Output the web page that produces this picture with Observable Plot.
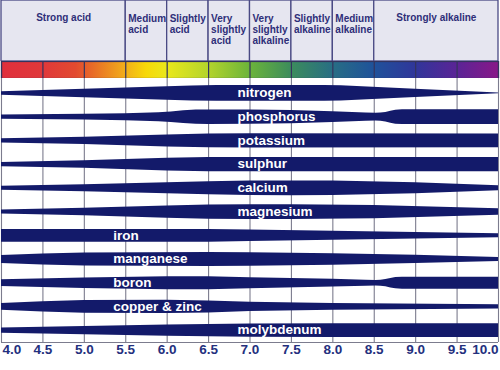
<!DOCTYPE html>
<html><head><meta charset="utf-8">
<script src="https://cdn.jsdelivr.net/npm/d3@7"></script>
<script src="https://cdn.jsdelivr.net/npm/@observablehq/plot@0.6"></script>
<style>
body{margin:0;background:#fff;}
#chart{width:500px;}
#chart svg{display:block;}
</style></head><body><div id="chart"></div>
<script>
// pH ticks
const ticks = [4.0, 4.5, 5.0, 5.5, 6.0, 6.5, 7.0, 7.5, 8.0, 8.5, 9.0, 9.5, 10.0];

// soil reaction zones (header)
const zoneLabels = ["Strong acid", "Medium\nacid", "Slightly\nacid", "Very\nslightly\nacid",
  "Very\nslightly\nalkaline", "Slightly\nalkaline", "Medium\nalkaline", "Strongly alkaline"];
const zoneFrom = [4.0, 5.5, 6.0, 6.5, 7.0, 7.5, 8.0, 8.5];
const zoneTo   = [5.5, 6.0, 6.5, 7.0, 7.5, 8.0, 8.5, 10.0];

// colour bar stops
const colourStopPH = [4.0, 4.5, 4.9, 5.1, 5.5, 5.75, 6.0, 6.5, 7.0, 7.5, 8.0, 8.5, 9.0, 9.5, 10.0];
const colourStops = ["#e02f3c", "#e0383a", "#e24a30", "#e86a28", "#f2ae1a", "#f7d808", "#eae81a",
  "#b4d42c", "#6cb43a", "#3c8c5c", "#286e84", "#1f529a", "#30369a", "#5a2496", "#881888"];

// nutrients and label positions (pH where label starts)
const nutrients = ["nitrogen", "phosphorus", "potassium", "sulphur", "calcium", "magnesium",
  "iron", "manganese", "boron", "copper & zinc", "molybdenum"];
const labelPH = [6.85, 6.85, 6.85, 6.85, 6.85, 6.85, 5.35, 5.35, 5.35, 5.35, 6.85];

// relative availability (band thickness, 1 = full) at pH
const nitrogen   = [[4.0,0.23],[6.3,1.0],[6.6,1.05],[7.9,1.05],[8.1,1.02],[9.0,0.55],[10.0,0.05]];
const phosphorus = [[4.0,0.29],[5.0,0.38],[5.5,0.47],[5.9,0.6],[6.05,0.7],[6.2,0.86],[6.35,0.95],[6.5,0.97],[7.0,0.95],[7.5,0.88],[8.0,0.72],[8.4,0.55],[8.52,0.52],[8.58,0.54],[8.64,0.63],[8.7,0.8],[8.76,0.93],[8.84,0.98],[10.0,0.98]];
const potassium  = [[4.0,0.27],[5.0,0.49],[6.0,0.8],[6.5,0.93],[7.0,0.96],[10.0,0.93]];
const sulphur    = [[4.0,0.29],[5.0,0.5],[6.0,0.86],[6.5,0.95],[10.0,0.95]];
const calcium    = [[4.0,0.27],[5.0,0.47],[6.0,0.73],[6.5,0.87],[7.0,0.97],[7.5,0.98],[8.0,0.97],[9.0,0.73],[10.0,0.33]];
const magnesium  = [[4.0,0.27],[5.0,0.5],[6.0,0.82],[6.5,0.95],[7.0,0.98],[7.5,0.98],[8.5,0.88],[10.0,0.44]];
const iron       = [[4.0,0.85],[6.5,0.85],[7.0,0.78],[8.0,0.6],[9.0,0.44],[10.0,0.27]];
const manganese  = [[4.0,0.52],[4.5,0.72],[5.0,0.87],[6.5,0.92],[7.0,0.9],[8.0,0.78],[9.0,0.55],[10.0,0.27]];
const boron      = [[4.0,0.45],[5.0,0.7],[6.0,0.87],[6.5,0.87],[7.0,0.73],[8.0,0.52],[8.4,0.39],[8.52,0.37],[8.58,0.39],[8.64,0.48],[8.7,0.64],[8.76,0.75],[8.84,0.8],[10.0,0.8]];
const copperZinc = [[4.0,0.45],[4.5,0.68],[5.0,0.85],[6.0,0.89],[6.5,0.8],[7.0,0.62],[8.0,0.44],[10.0,0.29]];
const molybdenum = [[4.0,0.34],[5.0,0.55],[6.0,0.75],[7.0,0.88],[8.0,0.92],[10.0,0.92]];
const profiles = [nitrogen, phosphorus, potassium, sulphur, calcium, magnesium, iron, manganese, boron, copperZinc, molybdenum];

// styles
const FONT = "'Liberation Sans', Arial, sans-serif";
const NAVY = "#131a6a";
const HALF = 7.5 / 23.7; // half of a full band, in row units
const W = 500, ML = 1, MR = 2;
const xScale = {domain: [ticks[0], ticks[ticks.length - 1]]};
const chart = document.getElementById("chart");

const zones = zoneLabels.map((label, i) => ({label, from: zoneFrom[i], to: zoneTo[i], wide: !label.includes("\n")}));

// header
chart.append(Plot.plot({
  width: W, height: 61, marginLeft: ML, marginRight: MR, marginTop: 0, marginBottom: 0,
  x: {...xScale, axis: null},
  style: {fontFamily: FONT, background: "#fff"},
  marks: [
    Plot.barX(zones, {x1: "from", x2: "to", fill: "#e6e6f0", stroke: "#4a4a84", strokeWidth: 1.3}),
    Plot.text(zones.filter(d => !d.wide), {x: "from", text: "label", frameAnchor: "top", textAnchor: "start",
      lineAnchor: "top", dx: 2.5, dy: 13.2, lineHeight: 1.13, fontSize: 10, fontWeight: "bold", fill: "#2e2e78"}),
    Plot.text(zones.filter(d => d.wide), {x: d => (d.from + d.to) / 2, text: "label", frameAnchor: "top",
      textAnchor: "middle", lineAnchor: "top", dy: 13.2, fontSize: 10, fontWeight: "bold", fill: "#2e2e78"})
  ]
}));

// colour bar
const span = ticks[ticks.length - 1] - ticks[0];
chart.append(Plot.plot({
  width: W, height: 17, marginLeft: ML, marginRight: MR, marginTop: 0, marginBottom: 0,
  x: {...xScale, axis: null},
  style: {background: "#fff"},
  marks: [
    () => {
      const defs = d3.create("svg:defs");
      const g = defs.append("linearGradient").attr("id", "phGrad").attr("x1", "0").attr("x2", "1").attr("y1", "0").attr("y2", "0");
      colourStopPH.forEach((p, i) => g.append("stop").attr("offset", (p - ticks[0]) / span).attr("stop-color", colourStops[i]));
      return defs.node();
    },
    Plot.barX([{from: ticks[0], to: ticks[ticks.length - 1]}], {x1: "from", x2: "to", fill: "url(#phGrad)"}),
    Plot.ruleX(ticks, {stroke: "#34345e", strokeWidth: 1.2}),
    Plot.frame({stroke: "#34345e", strokeWidth: 1.2})
  ]
}));

// nutrient bands
const bandData = nutrients.flatMap((n, i) => profiles[i].map(([ph, a]) => ({nutrient: n, i, ph, a})));
const labels = nutrients.map((n, i) => ({nutrient: n, i, ph: labelPH[i]}));
const yMax = 10.5;
const fmt = d3.format(".1f");
chart.append(Plot.plot({
  width: W, height: 292, marginLeft: ML, marginRight: MR, marginTop: 0, marginBottom: 28,
  x: {...xScale, axis: null},
  y: {domain: [-0.63, yMax], range: [0, 264], axis: null},
  style: {fontFamily: FONT, background: "#fff"},
  marks: [
    Plot.ruleX(ticks, {stroke: "#7c7c8e", strokeWidth: 1.1}),
    Plot.ruleY([yMax], {stroke: "#7c7c8e", strokeWidth: 1.1}),
    Plot.areaY(bandData, {x: "ph", y1: d => d.i - d.a * HALF, y2: d => d.i + d.a * HALF, z: "nutrient",
      fill: NAVY, curve: "linear"}),
    Plot.text(labels, {x: "ph", y: "i", text: "nutrient", textAnchor: "start", dy: -0.5,
      fill: "white", fontSize: 13.5, fontWeight: "bold"}),
    Plot.text(ticks.slice(0, 1), {x: d => d, text: fmt, frameAnchor: "bottom", textAnchor: "start", dx: 1, dy: 11,
      fontSize: 13.5, fontWeight: "bold", fill: "#24307e"}),
    Plot.text(ticks.slice(1, -1), {x: d => d, text: fmt, frameAnchor: "bottom", dy: 11,
      fontSize: 13.5, fontWeight: "bold", fill: "#24307e"}),
    Plot.text(ticks.slice(-1), {x: d => d, text: fmt, frameAnchor: "bottom", textAnchor: "end", dy: 11,
      fontSize: 13.5, fontWeight: "bold", fill: "#24307e"})
  ]
}));
</script></body></html>
